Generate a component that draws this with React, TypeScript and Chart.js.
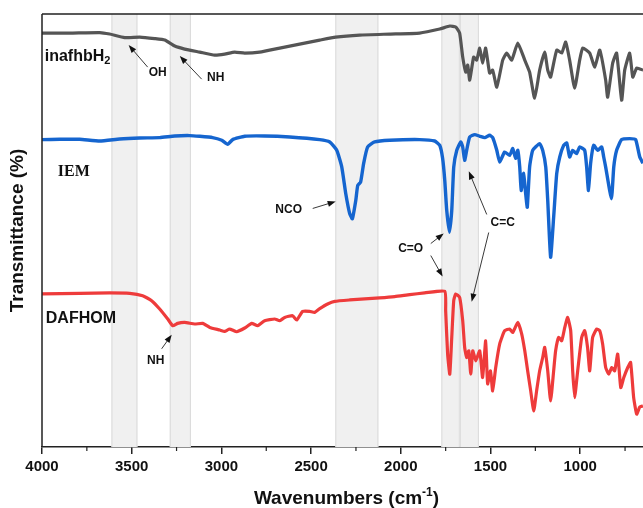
import React, { useEffect, useRef } from "react";
import { Chart, registerables } from "chart.js";
Chart.register(...registerables);

// x axis (wavenumber, cm-1)
const xTicks = [4000, 3500, 3000, 2500, 2000, 1500, 1000];
const minorTicks = [3750, 3250, 2750, 2250, 1750, 1250, 750];
const bands = [
  [3613, 3468],
  [3288, 3170],
  [2365, 2125],
  [1774, 1671],
  [1671, 1565],
];

// inafhbH2 (grey)
const inafWn = [4000, 3846, 3678, 3623, 3539, 3455, 3372, 3316, 3260, 3205, 3121, 3037, 2982, 2926, 2870, 2787, 2675, 2564, 2452, 2363, 2229, 2062, 1895, 1783, 1727, 1694, 1672, 1655, 1638, 1627, 1616, 1594, 1577, 1560, 1544, 1527, 1505, 1488, 1465, 1432, 1410, 1382, 1348, 1309, 1282, 1254, 1226, 1198, 1181, 1165, 1131, 1103, 1081, 1059, 1031, 1003, 986, 947, 919, 891, 858, 847, 819, 797, 769, 752, 724, 707, 685, 650];
const inafT = [413, 413, 413.5, 412, 408.5, 409, 407.5, 406, 400, 397, 394, 391, 392, 394, 393, 394, 398, 402, 406, 409, 411, 412, 413, 417, 420, 419, 413, 389, 374, 381, 366, 389, 386, 398, 383, 398, 373, 376, 359, 386, 393, 386, 403, 386, 374, 348, 376, 394, 376, 369, 396, 393, 404, 386, 358, 386, 398, 393, 379, 396, 366, 349, 383, 393, 346, 376, 393, 369, 378, 376];

// IEM (blue)
const iemWn = [4000, 3901, 3790, 3678, 3567, 3455, 3344, 3260, 3177, 3121, 3049, 2998, 2965, 2937, 2870, 2759, 2619, 2452, 2396, 2357, 2329, 2307, 2285, 2270, 2251, 2240, 2224, 2207, 2185, 2146, 2062, 1895, 1811, 1783, 1767, 1755, 1744, 1729, 1716, 1705, 1688, 1666, 1655, 1644, 1633, 1616, 1588, 1560, 1532, 1505, 1488, 1465, 1449, 1421, 1393, 1376, 1360, 1348, 1337, 1329, 1315, 1304, 1295, 1282, 1265, 1226, 1209, 1192, 1181, 1165, 1148, 1131, 1114, 1092, 1075, 1059, 1042, 1020, 1003, 975, 964, 954, 942, 925, 902, 880, 869, 858, 826, 813, 797, 769, 724, 691, 668, 650];
const iemT = [306.7, 307, 307, 305.3, 307.3, 308.3, 308.7, 310.3, 310.7, 310, 308.7, 306, 302, 306.7, 310, 310.3, 309.3, 306.7, 304.3, 296, 279.3, 253, 233, 227.7, 246, 261, 264.3, 283, 299.3, 304.3, 306, 306.7, 305.3, 301, 288, 266, 236, 214.3, 236, 279.3, 296, 304.3, 299.3, 286, 296, 309.3, 311.7, 310, 308.7, 311, 308.7, 296, 284.3, 294.3, 291, 297.7, 288, 296, 279.3, 256, 273, 252.7, 239.3, 279.3, 296, 302.7, 296, 279.3, 246, 189.3, 229.3, 272.7, 289.3, 301, 303.3, 289.3, 296, 292.7, 299.3, 296, 279.3, 256, 283, 301, 296, 299.3, 289.3, 279.3, 247.7, 279.3, 296, 306.7, 307.7, 306.7, 289.3, 283];

// DAFHOM (red)
const dafWn = [4000, 3790, 3623, 3511, 3439, 3389, 3344, 3299, 3271, 3244, 3205, 3149, 3104, 3065, 3009, 2982, 2954, 2915, 2870, 2831, 2798, 2759, 2703, 2675, 2647, 2603, 2580, 2547, 2508, 2480, 2452, 2408, 2368, 2285, 2201, 2118, 2034, 1950, 1867, 1755, 1750, 1739, 1727, 1716, 1705, 1694, 1672, 1655, 1644, 1633, 1621, 1610, 1599, 1582, 1560, 1544, 1527, 1516, 1500, 1488, 1471, 1449, 1421, 1393, 1376, 1348, 1326, 1309, 1293, 1276, 1259, 1243, 1226, 1209, 1198, 1181, 1165, 1148, 1137, 1120, 1103, 1086, 1070, 1053, 1042, 1031, 1014, 992, 975, 959, 947, 931, 908, 891, 875, 858, 841, 824, 808, 791, 774, 757, 735, 719, 702, 685, 668, 650];
const dafT = [152.7, 153.3, 153.7, 153.3, 151, 146, 137.7, 127.7, 121, 123.3, 124.3, 122.7, 123.3, 119.3, 116.7, 115.3, 117.7, 115, 118.7, 123.3, 121, 126, 127.7, 126, 129.3, 131, 126.7, 135.3, 135.3, 134.3, 138, 142.7, 145.3, 146.7, 147.7, 148.7, 150, 152, 153.7, 155.3, 136, 92.7, 72.7, 109.3, 146, 152.7, 149.3, 126, 99.3, 89.3, 96, 72.7, 96, 86, 96, 69.3, 106, 63, 76, 56, 79.3, 102.7, 116, 117.7, 114.3, 124.3, 112.7, 96, 76, 56, 36, 56, 76, 89.3, 99.3, 76, 46, 76, 96, 109.3, 106, 119.3, 129.3, 116, 76, 49.3, 76, 109.3, 116, 99.3, 76, 109.3, 117.7, 116, 102.7, 79.3, 72.7, 79.3, 76, 92.7, 59.3, 69.3, 79.3, 84.3, 49.3, 32.7, 40, 41];

const SANS = '"Liberation Sans", Arial, Helvetica, sans-serif';

// annotation layout (in data units: wavenumber, signal)
const seriesLabels = [
  { text: "inafhbH", sub: "2", wn: 3985, v: 390, font: SANS },
  { text: "IEM", sub: "", wn: 3912, v: 275, font: '"Liberation Serif", "Times New Roman", serif' },
  { text: "DAFHOM", sub: "", wn: 3979, v: 128, font: SANS },
];
const notes = [
  { text: "OH", wn: 3355, v: 373, arrows: [[3411, 379, 3517, 401]] },
  { text: "NH", wn: 3032, v: 368, arrows: [[3110, 367, 3232, 390]] },
  { text: "NCO", wn: 2625, v: 237, arrows: [[2491, 238, 2363, 245]] },
  { text: "C=O", wn: 1945, v: 198, arrows: [[1833, 203, 1761, 213], [1833, 191, 1767, 170]] },
  { text: "C=C", wn: 1432, v: 224, arrows: [[1521, 232, 1621, 275], [1510, 214, 1605, 145]] },
  { text: "NH", wn: 3366, v: 86, arrows: [[3333, 98, 3277, 112]] },
];

function arrow(ctx: CanvasRenderingContext2D, x1: number, y1: number, x2: number, y2: number) {
  const ang = Math.atan2(y2 - y1, x2 - x1);
  const L = 8, W = 3;
  ctx.beginPath();
  ctx.moveTo(x1, y1);
  ctx.lineTo(x2 - Math.cos(ang) * L * 0.8, y2 - Math.sin(ang) * L * 0.8);
  ctx.stroke();
  ctx.beginPath();
  ctx.moveTo(x2, y2);
  ctx.lineTo(x2 - Math.cos(ang) * L - Math.sin(ang) * W, y2 - Math.sin(ang) * L + Math.cos(ang) * W);
  ctx.lineTo(x2 - Math.cos(ang) * L + Math.sin(ang) * W, y2 - Math.sin(ang) * L - Math.cos(ang) * W);
  ctx.closePath();
  ctx.fill();
}

const decor = {
  id: "decor",
  beforeDatasetsDraw(chart: any) {
    const { ctx, chartArea: a, scales } = chart;
    const xs = scales.x;
    ctx.save();
    for (const [h, l] of bands) {
      const x1 = xs.getPixelForValue(h);
      const x2 = xs.getPixelForValue(l);
      ctx.fillStyle = "#f0f0f0";
      ctx.fillRect(x1, a.top, x2 - x1, a.bottom - a.top);
      ctx.strokeStyle = "#dadada";
      ctx.lineWidth = 1;
      ctx.beginPath();
      ctx.moveTo(x1 + 0.5, a.top);
      ctx.lineTo(x1 + 0.5, a.bottom);
      ctx.moveTo(x2 - 0.5, a.top);
      ctx.lineTo(x2 - 0.5, a.bottom);
      ctx.stroke();
    }
    ctx.restore();
  },
  afterDraw(chart: any) {
    const { ctx, chartArea: a, scales } = chart;
    const xs = scales.x, ys = scales.y;
    ctx.save();
    // frame
    ctx.strokeStyle = "#222";
    ctx.lineWidth = 1.5;
    ctx.beginPath();
    ctx.moveTo(a.left, a.top);
    ctx.lineTo(a.right, a.top);
    ctx.moveTo(a.left, a.top);
    ctx.lineTo(a.left, a.bottom);
    ctx.stroke();
    // minor ticks
    ctx.lineWidth = 1.2;
    ctx.beginPath();
    for (const m of minorTicks) {
      const x = xs.getPixelForValue(m);
      ctx.moveTo(x, a.bottom);
      ctx.lineTo(x, a.bottom + 4);
    }
    ctx.stroke();
    // series labels
    ctx.fillStyle = "#111";
    ctx.textBaseline = "middle";
    ctx.textAlign = "left";
    for (const s of seriesLabels) {
      const x = xs.getPixelForValue(s.wn);
      const y = ys.getPixelForValue(s.v);
      ctx.font = `bold 16px ${s.font}`;
      ctx.fillText(s.text, x, y);
      if (s.sub) {
        const w = ctx.measureText(s.text).width;
        ctx.font = `bold 11px ${s.font}`;
        ctx.fillText(s.sub, x + w, y + 5);
      }
    }
    // notes
    ctx.font = `bold 12px ${SANS}`;
    ctx.textAlign = "center";
    ctx.strokeStyle = "#222";
    ctx.fillStyle = "#111";
    ctx.lineWidth = 0.9;
    for (const n of notes) {
      ctx.fillText(n.text, xs.getPixelForValue(n.wn), ys.getPixelForValue(n.v));
      for (const [w1, v1, w2, v2] of n.arrows) {
        arrow(ctx, xs.getPixelForValue(w1), ys.getPixelForValue(v1), xs.getPixelForValue(w2), ys.getPixelForValue(v2));
      }
    }
    // y title
    ctx.save();
    ctx.translate(18, (a.top + a.bottom) / 2);
    ctx.rotate(-Math.PI / 2);
    ctx.font = `bold 19px ${SANS}`;
    ctx.textAlign = "center";
    ctx.textBaseline = "middle";
    ctx.fillText("Transmittance (%)", 0, 0);
    ctx.restore();
    // x title with superscript
    const big = `bold 19px ${SANS}`, small = `bold 12px ${SANS}`;
    const p1 = "Wavenumbers (cm", p2 = "-1", p3 = ")";
    ctx.font = big;
    const w1 = ctx.measureText(p1).width, w3 = ctx.measureText(p3).width;
    ctx.font = small;
    const w2 = ctx.measureText(p2).width;
    const total = w1 + w2 + w3;
    let x0 = (a.left + a.right) / 2 + 4 - total / 2;
    const yb = 504;
    ctx.textAlign = "left";
    ctx.textBaseline = "alphabetic";
    ctx.font = big;
    ctx.fillText(p1, x0, yb);
    ctx.font = small;
    ctx.fillText(p2, x0 + w1, yb - 8);
    ctx.font = big;
    ctx.fillText(p3, x0 + w1 + w2, yb);
    ctx.restore();
  },
};

export default function App() {
  const ref = useRef<HTMLCanvasElement>(null);
  useEffect(() => {
    const mk = (wn: number[], t: number[]) => wn.map((w, i) => ({ x: w, y: t[i] }));
    const chart = new Chart(ref.current as HTMLCanvasElement, {
      type: "line",
      data: {
        datasets: [
          { label: "inafhbH2", data: mk(inafWn, inafT), borderColor: "#555555", borderWidth: 3.2, pointRadius: 0, tension: 0.15 },
          { label: "IEM", data: mk(iemWn, iemT), borderColor: "#1565cf", borderWidth: 3.4, pointRadius: 0, tension: 0.15 },
          { label: "DAFHOM", data: mk(dafWn, dafT), borderColor: "#ee3b3b", borderWidth: 3.2, pointRadius: 0, tension: 0.15 },
        ],
      },
      options: {
        animation: false,
        responsive: false,
        devicePixelRatio: 1,
        layout: { padding: { left: 42, right: 0, top: 14, bottom: 28 } },
        plugins: { legend: { display: false }, tooltip: { enabled: false } },
        scales: {
          x: {
            type: "linear",
            reverse: true,
            min: 650,
            max: 4000,
            afterBuildTicks: (s: any) => {
              s.ticks = xTicks.map((v) => ({ value: v }));
            },
            ticks: {
              color: "#111",
              font: { family: SANS, size: 15, weight: "bold" },
              padding: 4,
              maxRotation: 0,
              autoSkip: false,
              callback: (v: any) => String(v),
            },
            grid: { display: true, drawOnChartArea: false, drawTicks: true, tickLength: 7, color: "#222", lineWidth: 1.5 },
            border: { display: true, color: "#222", width: 1.5 },
          },
          y: { display: false, min: 0, max: 432 },
        },
      },
      plugins: [decor],
    });
    return () => chart.destroy();
  }, []);
  return (
    <div style={{ position: "absolute", left: 0, top: 0, width: 643, height: 508, background: "#fff" }}>
      <canvas ref={ref} width={643} height={508} />
    </div>
  );
}
